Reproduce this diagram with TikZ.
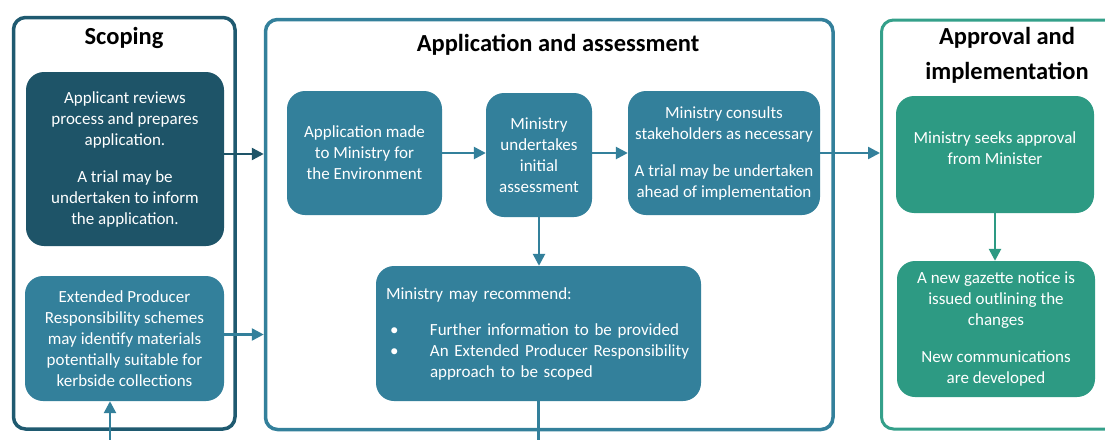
\documentclass[tikz,border=0pt]{standalone}
\usepackage{fontspec}
\setmainfont{Carlito}
\usetikzlibrary{arrows.meta}
\definecolor{scopeblue}{HTML}{1F5A70}
\definecolor{darkteal}{HTML}{1E5468}
\definecolor{midteal}{HTML}{33809B}
\definecolor{framegreen}{HTML}{34A08A}
\definecolor{boxgreen}{HTML}{2D9A83}

\begin{document}
\begin{tikzpicture}[x=1pt, y=-1pt,
	panel/.style={draw, fill=white, line width=3.5pt, rounded corners=12pt, inner sep=0pt},
	stepbox/.style={rounded corners=18pt, text=white, align=center, inner sep=2pt,
		font=\fontsize{17}{21}\selectfont},
	title/.style={font=\fontsize{24.5}{35}\selectfont\bfseries, align=center},
	flow/.style={line width=2.5pt, -{Triangle[length=12pt,width=12pt]}}]
	\clip (0,0) rectangle (1105,439);
	\fill[white] (0,0) rectangle (1105,439);
	%panels
	\node[panel, draw=scopeblue, minimum width=221.5, minimum height=411.5] (scoping) at (124.25,223.25) {};
	\node[panel, draw=midteal, minimum width=567.5, minimum height=410] (middle) at (549.25,224.5) {};
	\node[panel, draw=framegreen, line width=3pt, minimum width=243, minimum height=409] (approval) at (1003,224.5) {};
	%titles
	\node[title] (scopetitle) at (124,38) {Scoping};
	\node[title] (appltitle) at (558,45) {Application and assessment};
	\node[title] (approvtitle) at (1007,55) {Approval and\\implementation};
	%scoping
	\node[stepbox, fill=darkteal, minimum width=198, minimum height=174] (scope1) at (125,159)
	{Applicant reviews\\process and prepares\\application.\\[16pt]A trial may be\\undertaken to inform\\the application.};
	\node[stepbox, fill=midteal, minimum width=199, minimum height=125] (scope2) at (124.5,338.5)
	{Extended Producer\\Responsibility schemes\\may identify materials\\potentially suitable for\\kerbside collections};
	%application and assessment
	\node[stepbox, fill=midteal, minimum width=155, minimum height=124] (appl) at (364.5,153)
	{Application made\\to Ministry for\\the Environment};
	\node[stepbox, fill=midteal, minimum width=106, minimum height=124] (assess) at (539,155)
	{Ministry\\undertakes\\initial\\assessment};
	\node[stepbox, fill=midteal, minimum width=192, minimum height=124] (consult) at (724,153)
	{Ministry consults\\stakeholders as necessary\\[16pt]A trial may be undertaken\\ahead of implementation};
	\node[stepbox, fill=midteal, align=left, text width=305, minimum width=325, minimum height=135] (recommend) at (538.5,333.5)
	{Ministry may recommend:\\[15pt]
		\hspace*{4pt}\makebox[40pt][l]{\textbullet}Further information to be provided\\
		\hspace*{4pt}\makebox[40pt][l]{\textbullet}An Extended Producer Responsibility\\
		\hspace*{44pt}approach to be scoped};
	%approval and implementation
	\node[stepbox, fill=boxgreen, text depth=13pt, minimum width=198, minimum height=117] (approve) at (995,154.5)
	{Ministry seeks approval\\from Minister};
	\node[stepbox, fill=boxgreen, minimum width=198, minimum height=136] (gazette) at (996,329)
	{A new gazette notice is\\issued outlining the\\changes\\[16pt]New communications\\are developed};
	%arrows
	\coordinate (inflow) at (110,445);
	\coordinate (outflow) at (541,445);
	\draw[flow, darkteal] ([yshift=5pt]scope1.east) -- ([yshift=5pt]scope1.east -| middle.west);
	\draw[flow, midteal] ([yshift=4pt]scope2.east) -- ([yshift=4pt]scope2.east -| middle.west);
	\draw[flow, midteal] (appl.east) -- (appl.east -| assess.west);
	\draw[flow, midteal] (consult.west -| assess.east) -- (consult.west);
	\draw[flow, midteal] (consult.east) -- (consult.east -| approval.west);
	\draw[flow, midteal] (assess.south) -- (assess.south |- recommend.north);
	\draw[flow, boxgreen] (approve.south) -- (approve.south |- gazette.north);
	\draw[flow, midteal] (inflow) -- (inflow |- scope2.south);
	\draw[line width=2.5pt, midteal] ([yshift=14pt]recommend.south) -- (recommend.south |- outflow);
\end{tikzpicture}
\end{document}
